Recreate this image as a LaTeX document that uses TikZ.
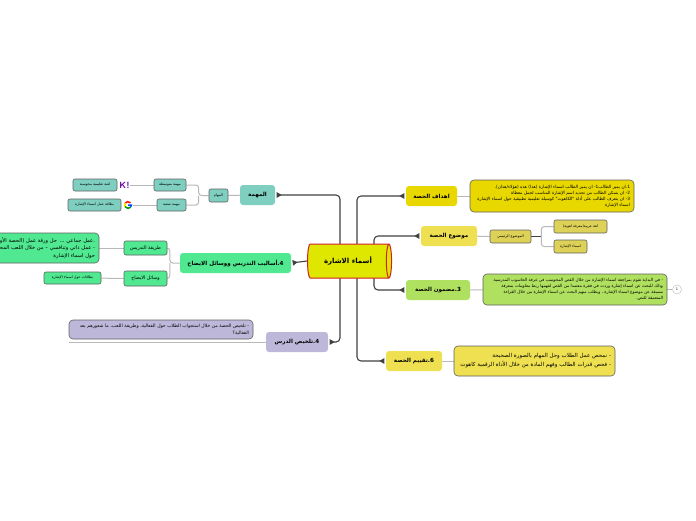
\documentclass[tikz,border=0pt]{standalone}
\usepackage{fontspec}
\usetikzlibrary{arrows.meta,shapes.geometric,backgrounds}
\newfontfamily\arabicfont[Script=Arabic]{DejaVu Sans}
\TeXXeTstate=1
\newcommand{\ar}[1]{\arabicfont\beginR #1\endR}
\definecolor{hubfill}{HTML}{DFE600}
\definecolor{hubline}{HTML}{D0202E}
\definecolor{goalfill}{HTML}{E8D800}
\definecolor{topicfill}{HTML}{EEE050}
\definecolor{contentfill}{HTML}{B0E060}
\definecolor{taskfill}{HTML}{7FCFC0}
\definecolor{methodfill}{HTML}{50E890}
\definecolor{sumfill}{HTML}{BDB8DA}
\definecolor{trunkcol}{HTML}{404040}
\definecolor{twigcol}{HTML}{B8B8B8}
\definecolor{boxline}{HTML}{606060}
\tikzset{
  x=1pt,y=-1pt,
  branch/.style={rounded corners=3pt,font=\fontsize{5.6}{7}\selectfont\bfseries,inner sep=0pt,align=center,anchor=center},
  leaf/.style={draw=boxline,line width=.6pt,rounded corners=2pt,font=\fontsize{3.6}{4.5}\selectfont,inner sep=0pt,align=center,anchor=center},
  note/.style={draw=boxline,line width=.6pt,rounded corners=4pt,inner xsep=4pt,inner ysep=0pt,align=right,anchor=center},
  trunk/.style={draw=trunkcol,line width=1.1pt,rounded corners=4pt,shorten >=1.5pt,-{Triangle[length=5pt,width=5.5pt,reversed]}},
  twig/.style={draw=twigcol,line width=1pt,rounded corners=3pt},
}
\begin{document}
\begin{tikzpicture}
    \useasboundingbox (0,0) rectangle (696,520);
    % main nodes
    \node[shape=cylinder,draw=hubline,fill=hubfill,line width=1pt,aspect=.6,minimum width=34pt,minimum height=84pt,inner sep=0pt,cylinder uses custom fill,cylinder body fill=hubfill,cylinder end fill=hubfill,font=\fontsize{7}{8}\selectfont\bfseries] (hub) at (348,261) {\ar{أسماء الاشارة}};
    \coordinate (trunkl) at (340,261);
    \coordinate (trunkr) at (357,261);
    \coordinate (trunkm) at (374,261);
    \node[branch,fill=goalfill,minimum width=51pt,minimum height=20pt] (goal) at (431.5,196) {\ar{اهداف الحصة}};
    \node[branch,fill=topicfill,minimum width=56pt,minimum height=20pt] (topic) at (449,236) {\ar{موضوع الحصة}};
    \node[branch,fill=contentfill,minimum width=64pt,minimum height=20pt] (content) at (438,290) {\ar{3.مضمون الحصة}};
    \node[branch,fill=topicfill,minimum width=56pt,minimum height=20pt] (assess) at (414,361) {\ar{6.تقييم الحصة}};
    \node[branch,fill=taskfill,minimum width=35pt,minimum height=20pt] (task) at (257.5,195) {\ar{المهمة}};
    \node[branch,fill=methodfill,minimum width=111pt,minimum height=20pt] (method) at (235.5,263) {\ar{4.أساليب التدريس ووسائل الايضاح}};
    \node[branch,fill=sumfill,minimum width=62pt,minimum height=20pt] (summary) at (297,342) {\ar{4.تلخيص الدرس}};
    % right side
    \node[note,fill=goalfill,text width=156pt,minimum height=32pt,font=\fontsize{4.3}{6}\selectfont] (goaltext) at (552,196) {\ar{1.ان يميز الطالب1- ان يميز الطالب اسماء الإشارة (هذا) هذه (هؤلاء/هذان).}\\\ar{2- ان يتمكن الطالب من تحديد اسم الإشارة المناسب لجمل معطاة}\\\ar{3- ان يتعرف الطالب على أداة "الكاهوت" كوسيلة تعليمية تطبيقية حول اسماء الإشارة}\\\ar{اسماء الإشارة}};
    \node[leaf,fill=topicfill!85!gray,minimum width=41pt,minimum height=13pt] (mainsubj) at (510.5,236.5) {\ar{الموضوع الرئيسي}};
    \node[leaf,fill=topicfill!85!gray,minimum width=53pt,minimum height=13pt] (subja) at (580.5,226.5) {\ar{لغة عربية(معرفة لغوية)}};
    \node[leaf,fill=topicfill!85!gray,minimum width=33pt,minimum height=13pt] (subjb) at (570.5,246.5) {\ar{اسماء الإشارة}};
    \node[note,fill=contentfill,text width=176pt,minimum height=31pt,font=\fontsize{4.2}{6.2}\selectfont] (contenttext) at (575,289.5) {\ar{- في البداية تقوم بمراجعة اسماء الإشارة من خلال القص المحوسب في غرفة الحاسوب المدرسية}\\\ar{وذلك للبحث عن اسماء إشارة وردت في فقرة معتمدا من القص لفهمها ربط معلومات بمعرفة}\\\ar{مسبقة عن موضوع اسماء الإشارة ، ويطلب منهم البحث عن اسماء الإشارة من خلال القراءة}\\\ar{المتعمقة للنص.}};
    \node[draw=twigcol,shape=circle,fill=white,minimum size=9pt,inner sep=0pt,font=\fontsize{4}{5}\selectfont] (count) at (677,289.5) {1};
    \node[note,fill=topicfill,text width=153pt,minimum height=30pt,font=\fontsize{5.5}{9}\selectfont] (assesstext) at (534.5,361) {\ar{- نمحص عمل الطلاب وحل المهام بالصورة الصحيحة}\\\ar{- فحص قدرات الطالب وفهم المادة من خلال الأداة الرقمية كاهوت}};
    % left side
    \node[leaf,fill=taskfill,minimum width=19pt,minimum height=13pt] (duties) at (218.5,195.5) {\ar{المهام}};
    \node[leaf,fill=taskfill,minimum width=32pt,minimum height=12pt] (medium) at (170,185) {\ar{مهمة متوسطة}};
    \node[leaf,fill=taskfill,minimum width=29pt,minimum height=12pt] (hard) at (171.5,205) {\ar{مهمة صعبة}};
    \node[font=\sffamily\bfseries\fontsize{9}{9}\selectfont,text=violet!75!blue,inner sep=0pt] (kahoot) at (124.5,185) {K!};
    \node[shape=circle,minimum size=9pt,inner sep=0pt] (google) at (128,205) {};
    \draw[line width=1.5pt,red!85!orange] ([shift={(40:3.4pt)}]google.center) arc[start angle=40,end angle=150,radius=3.4pt];
    \draw[line width=1.5pt,yellow!85!orange] ([shift={(150:3.4pt)}]google.center) arc[start angle=150,end angle=210,radius=3.4pt];
    \draw[line width=1.5pt,green!60!black] ([shift={(210:3.4pt)}]google.center) arc[start angle=210,end angle=320,radius=3.4pt];
    \draw[line width=1.5pt,blue!70!cyan] ([shift={(320:3.4pt)}]google.center) arc[start angle=320,end angle=360,radius=3.4pt] -- (google.center);
    \node[leaf,fill=taskfill,minimum width=44pt,minimum height=12pt] (game) at (95,185) {\ar{لعبة تعليمية محوسبة}};
    \node[leaf,fill=taskfill,minimum width=53pt,minimum height=12pt] (sheet) at (94.5,205) {\ar{بطاقة عمل اسماء الإشارة}};
    \node[leaf,fill=methodfill,minimum width=43pt,minimum height=14pt,font=\fontsize{4.8}{6}\selectfont] (teaching) at (145.5,248) {\ar{طريقة التدريس}};
    \node[leaf,fill=methodfill,minimum width=43pt,minimum height=15pt,font=\fontsize{4.8}{6}\selectfont] (aids) at (145.5,278.5) {\ar{وسائل الايضاح}};
    \node[note,fill=methodfill,text width=108pt,minimum height=30pt,font=\fontsize{5.2}{7.5}\selectfont] (teachtext) at (41,248) {\ar{.عمل جماعي ... حل ورقة عمل (الحصة الأولى)}\\\ar{- عمل ذاتي وتنافسي – من خلال اللعب المحوسب}\\\ar{حول اسماء الإشارة}};
    \node[leaf,fill=methodfill,minimum width=57pt,minimum height=12pt] (cards) at (72.5,278) {\ar{بطاقات حول اسماء الإشارة}};
    \node[note,fill=sumfill,text width=176pt,minimum height=19pt,font=\fontsize{4.6}{6.5}\selectfont] (sumtext) at (161,329.5) {\ar{- تلخيص الحصة من خلال استجواب الطلاب حول الفعالية، وطريقة اللعب، ما شعورهم بعد}\\\ar{الفعالية؟}};
    \coordinate (sumend) at (69,342);
    % trunk lines
    \begin{scope}[on background layer]
    \draw [trunk] (trunkl) |- (task.east);
    \draw [trunk] (trunkl) |- (summary.east);
    \draw [trunk] (hub.west) -- (method.east);
    \draw [trunk] (trunkr) |- (goal.west);
    \draw [trunk] (trunkr) |- (assess.west);
    \draw [trunk] (trunkm) |- (topic.west);
    \draw [trunk] (trunkm) |- (content.west);
    % twigs
    \draw [twig] (goal) -- (goaltext);
    \draw [twig] (topic) -- (mainsubj);
    \draw [twig] (content) -- (contenttext);
    \draw [twig] (contenttext) -- (count);
    \draw [twig] (assess) -- (assesstext);
    \draw [twig] (task) -- (duties);
    \draw [twig] (method.west) -- ++(-10,0) coordinate (methodj) |- (teaching.east);
    \draw [twig] (methodj) |- (aids.east);
    \draw [twig] (duties.west) -- ++(-10,0) coordinate (dutyj) |- (medium.east);
    \draw [twig] (dutyj) |- (hard.east);
    \draw [trunkcol,line width=.7pt] (mainsubj.east) -- ++(10,0) coordinate (subjj);
    \draw [twig] (subjj) |- (subja.west);
    \draw [twig] (subjj) |- (subjb.west);
    \draw [twig] (medium) -- (kahoot);
    \draw [twig] (hard) -- (google);
    \draw [twig] (teaching) -- (teachtext);
    \draw [twig] (aids) -- (cards);
    \draw [twig] (summary.west) -- (sumend);
    \end{scope}
\end{tikzpicture}
\end{document}
